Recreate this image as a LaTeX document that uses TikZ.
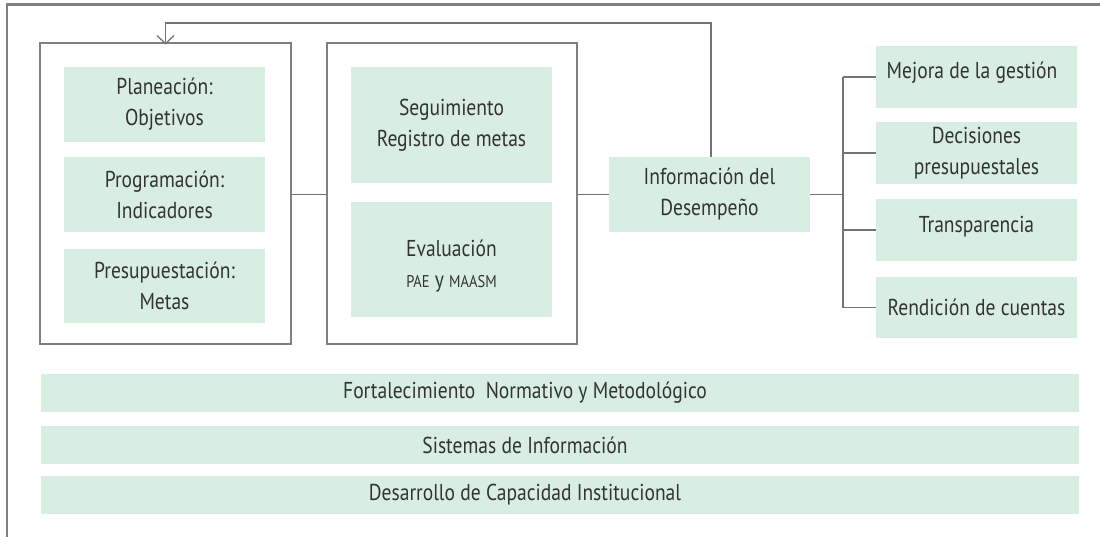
\documentclass[tikz,border=0pt]{standalone}
\usepackage{fontspec}
\setmainfont{PT Sans}[FakeStretch=0.85]
\usetikzlibrary{arrows.meta}
\definecolor{mint}{HTML}{D9EEE3}
\definecolor{framegray}{HTML}{808080}
\definecolor{linegray}{HTML}{747474}
\definecolor{ink}{HTML}{333333}
\newcommand{\sm}[1]{{\fontsize{17}{31}\selectfont #1}}
\begin{document}
\begin{tikzpicture}[x=1pt,y=-1pt,
  font=\fontsize{23}{31}\selectfont,
  gbox/.style={fill=mint, draw=none, inner sep=0pt, outer sep=0pt, align=center, text=ink, minimum width=201pt},
  bar/.style={fill=mint, draw=none, inner sep=0pt, outer sep=0pt, minimum width=1038pt, minimum height=38pt},
  txt/.style={text=ink, inner sep=0pt, align=center},
  grp/.style={draw=framegray, line width=1.6pt, inner sep=0pt, outer sep=0pt, minimum width=#1, minimum height=301pt},
  conn/.style={draw=linegray, line width=1.5pt},
  outerframe/.style={draw=framegray, line width=2.2pt}
]
\useasboundingbox (0,0) rectangle (1100,537);
% outer frame
\coordinate (ftr) at (1100,4.5);
\coordinate (ftl) at (7,4.5);
\coordinate (fbl) at (7,537);
\draw[outerframe] (ftr) -- (ftl) -- (fbl);

% group boxes
\node[grp=251pt] (lbox) at (165.5,193.5) {};
\node[grp=250pt] (mbox) at (452,193.5) {};

% left column
\node[gbox, minimum height=75pt] (plan) at (164.5,104.5) {Planeación:\\Objetivos};
\node[gbox, minimum height=75pt] (prog) at (164.5,194.5) {Programación:\\Indicadores};
\node[gbox, minimum height=74pt] (pres) at (164.5,286) {Presupuestación:\\Metas};

% middle column
\node[gbox, minimum height=116pt] (seg) at (451.5,125) {Seguimiento\\Registro de metas};
\node[gbox, minimum height=115pt] (eval) at (451.5,259.5) {};
\node[txt] (evaltxt) at (451.5,266) {Evaluación\\\sm{PAE} y \sm{MAASM}};

% information
\node[gbox, minimum height=75pt] (info) at (709.5,194.5) {Información del\\Desempeño};

% right column
\node[gbox, minimum height=62pt] (mej) at (976.5,77) {};
\node[txt] (mejtxt) at (972,73) {Mejora de la gestión};
\node[gbox, minimum height=62pt] (dec) at (976.5,153) {Decisiones\\presupuestales};
\node[gbox, minimum height=62pt] (tra) at (976.5,230) {};
\node[txt] (tratxt) at (976.5,227) {Transparencia};
\node[gbox, minimum height=61pt] (ren) at (976.5,307.5) {Rendición de cuentas};

% bars
\node[bar] (b1) at (560,393) {};
\node[bar] (b2) at (560,445) {};
\node[bar] (b3) at (560,495) {};
\node[txt] at ([xshift=-35pt]b1.center) {Fortalecimiento\ \ Normativo y Metodológico};
\node[txt] at ([xshift=-35pt]b2.center) {Sistemas de Información};
\node[txt] at ([xshift=-35pt]b3.center) {Desarrollo de Capacidad Institucional};

% connectors
\draw[conn] (lbox.east |- info) -- (mbox.west |- info);
\draw[conn] (mbox.east |- info) -- (info.west);
\coordinate (br) at (843,194.5);
\draw[conn] (info.east) -- (br);
\draw[conn] (br |- mej) -- (br |- ren);
\draw[conn] (br |- mej) -- (mej.west);
\draw[conn] (br |- dec) -- (dec.west);
\draw[conn] (br |- tra) -- (tra.west);
\draw[conn] (br |- ren) -- (ren.west);

% feedback
\coordinate (fbx) at (711,23);
\draw[conn, -{Straight Barb[length=8pt,width=17pt,line width=1.3pt]}]
  (info.north -| fbx) -- (fbx) -- (lbox.north |- fbx) -- ([yshift=-1.5pt]lbox.north);
\end{tikzpicture}
\end{document}
